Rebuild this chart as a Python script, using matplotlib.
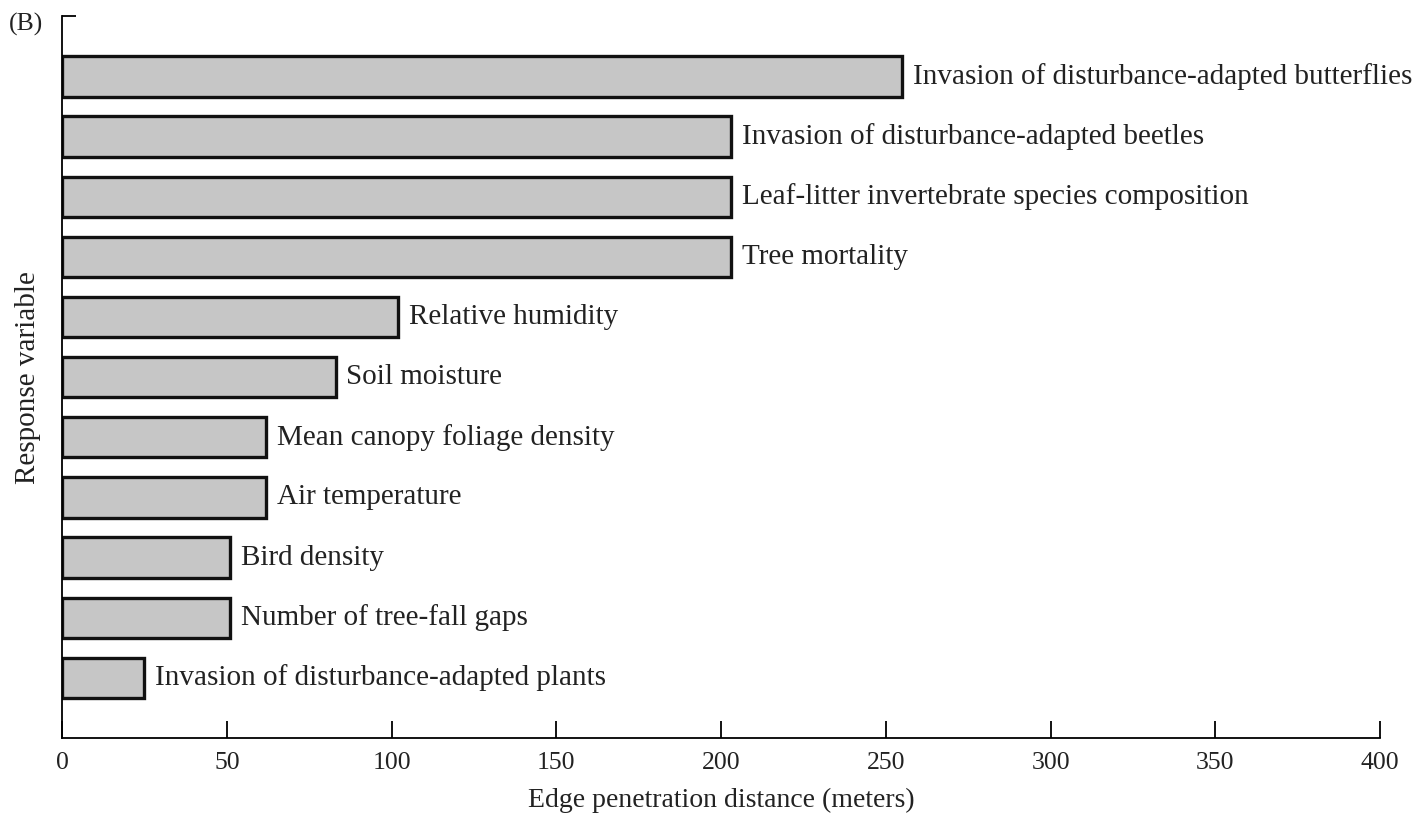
import matplotlib.pyplot as plt

plt.rcParams['font.family'] = ['Liberation Serif', 'DejaVu Serif']

# Response variables, top to bottom
variables = [
    "Invasion of disturbance-adapted butterflies",
    "Invasion of disturbance-adapted beetles",
    "Leaf-litter invertebrate species composition",
    "Tree mortality",
    "Relative humidity",
    "Soil moisture",
    "Mean canopy foliage density",
    "Air temperature",
    "Bird density",
    "Number of tree-fall gaps",
    "Invasion of disturbance-adapted plants",
]
# Edge penetration distance (meters)
distances = [255, 203, 203, 203, 102, 83, 62, 62, 51, 51, 25]
x_ticks = [0, 50, 100, 150, 200, 250, 300, 350, 400]

fig = plt.figure(figsize=(14.17, 8.16), dpi=100)
ax = fig.add_axes([0.0438, 0.0956, 0.9302, 0.8844])

n = len(variables)
ypos = [n - 1 - i for i in range(n)]
ax.barh(ypos, distances, height=0.67, color='#c6c6c6', edgecolor='#111111',
        linewidth=2.4)

for y, d, name in zip(ypos, distances, variables):
    ax.text(d + 3.2, y, name, va='center', ha='left', fontsize=21, color='#222222')

ax.set_xlim(0, 400)
ax.set_ylim(-1, n)
ax.set_xticks(x_ticks)
ax.set_yticks([n])
ax.set_yticklabels([])
ax.tick_params(axis='x', direction='in', length=12, width=1.3, labelsize=18.5,
               pad=10, labelcolor='#222222')
ax.tick_params(axis='y', direction='in', length=10, width=1.3)

for s in ['top', 'right']:
    ax.spines[s].set_visible(False)
for s in ['left', 'bottom']:
    ax.spines[s].set_linewidth(1.3)

ax.set_xlabel("Edge penetration distance (meters)", fontsize=20, labelpad=10, color='#222222')
ax.set_ylabel("Response variable", fontsize=21, labelpad=12, color='#222222')
fig.text(0.006, 0.962, "(B)", fontsize=18.5, color='#222222')

fig.savefig("out.png", dpi=100)
